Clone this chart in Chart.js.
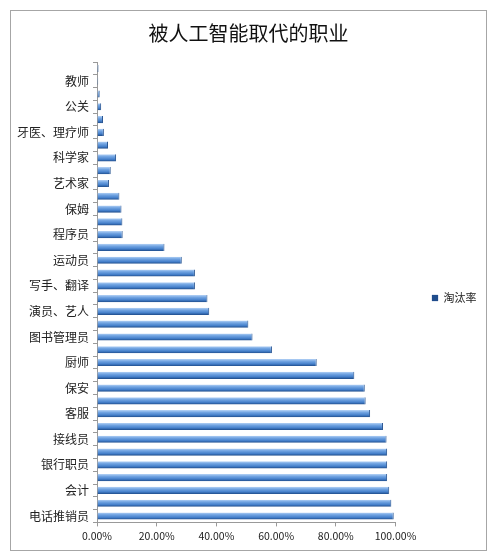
<!DOCTYPE html>
<html>
<head>
<meta charset="utf-8">
<script src="https://cdn.jsdelivr.net/npm/chart.js@4"></script>
<style>
  body { margin: 0; background: #fff; }
  #box {
    position: absolute; left: 10px; top: 10px;
    width: 475px; height: 539px;
    border: 1px solid #a6a6a6;
  }
</style>
</head>
<body>
<div id="box"><canvas id="myChart"></canvas></div>
<script>
// 36 categories, top to bottom; only every other one is labelled in the picture
var jobs = [
    '', '教师', '', '公关', '', '牙医、理疗师', '', '科学家', '', '艺术家', '',
    '保姆', '', '程序员', '', '运动员', '', '写手、翻译', '', '演员、艺人', '',
    '图书管理员', '', '厨师', '', '保安', '', '客服', '', '接线员', '', '银行职员',
    '', '会计', '', '电话推销员'
];
var rates = [
    0.005, 0.004, 0.009, 0.014, 0.02, 0.023, 0.037, 0.064, 0.046, 0.04, 0.075,
    0.082, 0.085, 0.086, 0.226, 0.284, 0.328, 0.328, 0.37, 0.376, 0.507,
    0.521, 0.586, 0.736, 0.862, 0.897, 0.90, 0.915, 0.958, 0.97, 0.972, 0.972,
    0.972, 0.979, 0.986, 0.994
];
var seriesName = '淘汰率';
var titleText = '被人工智能取代的职业';

var font = "'Noto Sans CJK SC', 'Noto Sans', sans-serif";

function barFill(c) {
    var chart = c.chart;
    var y = chart.scales && chart.scales.y;
    if (!y || c.dataIndex === undefined) return '#4f86d0';
    var mid = y.getPixelForValue(c.dataIndex);
    if (!isFinite(mid)) return '#4f86d0';
    var g = chart.ctx.createLinearGradient(0, mid - 3.5, 0, mid + 3.5);
    g.addColorStop(0, '#b3d1f5');
    g.addColorStop(0.3, '#74a6e3');
    g.addColorStop(0.7, '#4580cb');
    g.addColorStop(1, '#1f4d8c');
    return g;
}

// put the legend where it sits in the picture: right of the plot, a bit low
var legendShift = {
    id: 'legendShift',
    afterLayout: function (chart) {
        var lg = chart.legend;
        if (lg) {
            var w = lg.right - lg.left;
            lg.left = 385;
            lg.right = 385 + w;
            lg.top += 20;
            lg.bottom += 20;
        }
    }
};

function createChart() {
    var ctx = document.getElementById('myChart');

    var data = {
        labels: jobs,
        datasets: [{
            label: seriesName,
            data: rates,
            backgroundColor: barFill,
            borderColor: '#1f4d8c',
            borderWidth: { right: 1, top: 0, bottom: 0, left: 0 },
            barPercentage: 0.56,
            categoryPercentage: 1
        }]
    };

    var option = {
        indexAxis: 'y',
        responsive: true,
        maintainAspectRatio: false,
        animation: false,
        layout: { padding: { left: 0, right: 0, top: 0, bottom: 5 } },
        plugins: {
            title: {
                display: true,
                text: titleText,
                color: '#111',
                font: { family: font, size: 20, weight: 'normal' },
                padding: { top: 10, bottom: 17 }
            },
            legend: {
                position: 'right',
                labels: {
                    boxWidth: 6,
                    boxHeight: 6,
                    color: '#222',
                    font: { family: font, size: 11 },
                    padding: 36
                }
            },
            tooltip: { enabled: false }
        },
        scales: {
            x: {
                min: 0,
                max: 1,
                ticks: {
                    stepSize: 0.2,
                    color: '#222',
                    font: { family: font, size: 10.5 },
                    callback: function (v) { return (v * 100).toFixed(2) + '%'; }
                },
                grid: { drawOnChartArea: false, tickLength: 4, color: '#999' },
                border: { color: '#999' }
            },
            y: {
                ticks: {
                    autoSkip: false,
                    color: '#222',
                    font: { family: font, size: 12 },
                    padding: 4
                },
                grid: { drawOnChartArea: false, offset: true, tickLength: 4, color: '#999' },
                border: { color: '#999' },
                afterFit: function (s) { s.width = 86; }
            }
        }
    };

    new Chart(ctx, {
        type: 'bar',
        data: data,
        options: option,
        plugins: [legendShift]
    });
}

createChart();
</script>
</body>
</html>
